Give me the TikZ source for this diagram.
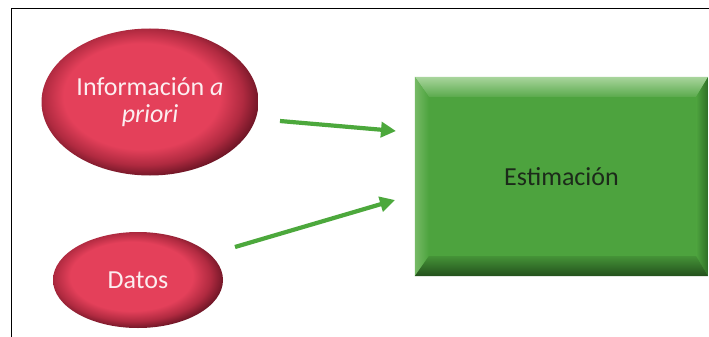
\documentclass[tikz,border=0pt]{standalone}
\usepackage{fontspec}
\setmainfont{Carlito}
\usetikzlibrary{shapes.geometric,arrows.meta,calc}
\definecolor{redmain}{HTML}{E4405A}
\definecolor{reddark}{HTML}{6A1424}
\definecolor{redmid}{HTML}{B02A40}
\definecolor{grnmain}{HTML}{4DA33E}
\definecolor{grnlight}{HTML}{A9D59D}
\definecolor{grnleft}{HTML}{76BA66}
\definecolor{grnright}{HTML}{2F6E27}
\definecolor{grnbot}{HTML}{23501C}
\definecolor{arrgreen}{HTML}{4CA83C}
\definecolor{txtpink}{HTML}{FCEEF0}
\definecolor{txtdark}{HTML}{1C2A1A}
\pgfdeclareradialshading{redball}{\pgfpoint{-3bp}{3bp}}{%
  color(0bp)=(redmain); color(18bp)=(redmain); color(23bp)=(redmid);
  color(27bp)=(reddark); color(50bp)=(reddark)}
\tikzset{
  redoval/.style={ellipse, shading=redball, draw=none, text=txtpink,
    font=\fontsize{26}{27}\selectfont, align=center, inner sep=0pt},
  greenbox/.style={rectangle, fill=grnmain, draw=none, text=txtdark,
    inner sep=0pt},
  flowarrow/.style={draw=arrgreen, line width=4.2pt,
    -{Triangle[length=15pt,width=15pt]}},
}
\begin{document}
\begin{tikzpicture}[x=1pt,y=-1pt]
\useasboundingbox (0,0) rectangle (709,337);
\fill[white] (0,0) rectangle (709,337);
% frame
\draw[line width=1pt] (11.5,337) -- (11.5,9) -- (709,9);
% ovals
\node[redoval, minimum width=217pt, minimum height=147pt] (info) at (150,102)
  {Información \textit{a}\\\textit{priori}};
\node[redoval, minimum width=170pt, minimum height=96pt] (datos) at (138,280) {Datos};
% green box
\node[greenbox, minimum width=293pt, minimum height=199pt] (est) at (561.5,176.5) {};
\shade[top color=grnlight, bottom color=grnmain!85!grnlight]
  (est.north west) -- (est.north east) -- ($(est.north east)+(-12,20)$) -- ($(est.north west)+(14,20)$) -- cycle;
\shade[left color=grnleft, right color=grnmain]
  (est.north west) -- ($(est.north west)+(14,20)$) -- ($(est.south west)+(14,-20)$) -- (est.south west) -- cycle;
\shade[left color=grnmain, right color=grnright]
  (est.north east) -- ($(est.north east)+(-12,20)$) -- ($(est.south east)+(-12,-20)$) -- (est.south east) -- cycle;
\shade[top color=grnmain!80!grnbot, bottom color=grnbot]
  (est.south west) -- ($(est.south west)+(14,-20)$) -- ($(est.south east)+(-12,-20)$) -- (est.south east) -- cycle;
\node[text=txtdark, font=\fontsize{26}{30}\selectfont] (esttxt) at (est.center) {Estimación};
% arrows
\coordinate (a1s) at (280,121);
\coordinate (a1e) at (396,131);
\coordinate (a2s) at (235,247);
\coordinate (a2e) at (395,200);
\draw[flowarrow] (a1s) -- (a1e);
\draw[flowarrow] (a2s) -- (a2e);
\end{tikzpicture}
\end{document}
